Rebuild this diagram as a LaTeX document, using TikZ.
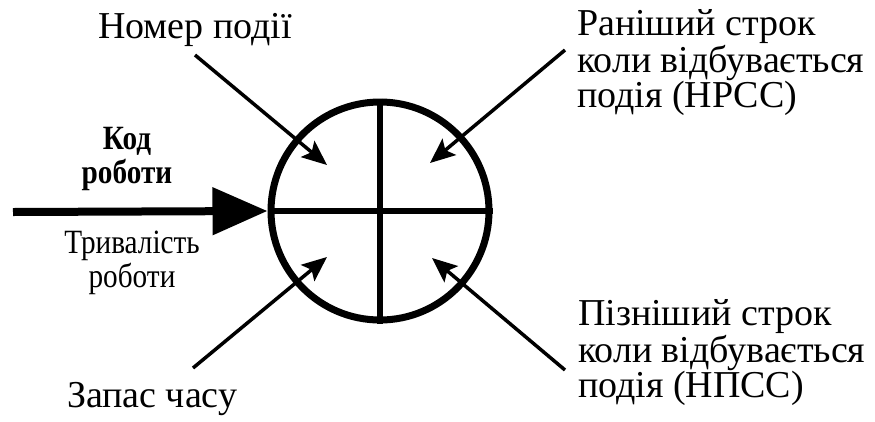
\documentclass[tikz,border=0pt]{standalone}
\usepackage{fontspec}
\setmainfont{Liberation Serif}
\usetikzlibrary{arrows.meta}
\tikzset{
  bigtxt/.style={inner sep=0pt,outer sep=0pt,align=left,anchor=base west,font=\fontsize{38}{35}\selectfont},
  smalltxt/.style={inner sep=0pt,outer sep=0pt,anchor=base,font=\fontsize{34}{30}\selectfont},
  pointer/.style={line width=3.5pt,-{Stealth[length=25pt,width=21pt,inset=5pt]}},
  event/.style={circle,draw,line width=7pt,minimum size=218pt,inner sep=0pt},
  cross/.style={line width=6pt}
}
\newcommand\condtxt[1]{\scalebox{0.86}[1]{\begin{tabular}[b]{@{}c@{}}#1\end{tabular}}}
\begin{document}
\begin{tikzpicture}[x=1pt,y=-1pt]
\useasboundingbox (0,0) rectangle (875,421);
\node[event] (c) at (380,211) {};
\draw[cross] (c.north) -- (c.south);
\draw[cross] (c.west) -- (c.east);
% main arrow
\coordinate (start) at (13,212);
\draw[line width=8pt,-{Triangle[length=55pt,width=46pt]}] (start) -- (c.west);
% pointers
\coordinate (tl) at (195,55);  \coordinate (tlh) at (327,165);
\coordinate (tr) at (565,50);  \coordinate (trh) at (430,163);
\coordinate (bl) at (193,368); \coordinate (blh) at (327,257);
\coordinate (br) at (565,370); \coordinate (brh) at (432,258);
\draw[pointer] (tl) -- (tlh);
\draw[pointer] (tr) -- (trh);
\draw[pointer] (bl) -- (blh);
\draw[pointer] (br) -- (brh);
% texts
\node[bigtxt] (nom) at (98,38) {Номер події};
\node[bigtxt] (early) at (577,107) {Раніший строк\\коли відбувається\\подія (НРСС)};
\node[bigtxt] (late) at (578,397) {Пізніший строк\\коли відбувається\\подія (НПСС)};
\node[bigtxt] (zap) at (67,407) {Запас часу};
\node[smalltxt,font=\fontsize{34}{30}\selectfont\bfseries] (kod) at (127,183) {\condtxt{Код\\роботи}};
\node[smalltxt] (dur) at (132,287) {\condtxt{Тривалість\\роботи}};
\end{tikzpicture}
\end{document}
